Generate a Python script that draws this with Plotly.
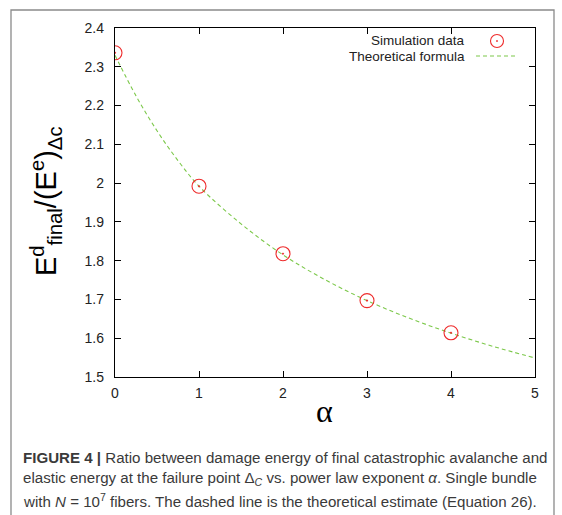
import plotly.graph_objects as go

# Simulation: damage-to-elastic energy ratio vs. power-law exponent alpha
alpha_sim = [0, 1, 2, 3, 4]
ratio_sim = [2.336, 1.992, 1.818, 1.697, 1.614]

# Theoretical estimate (Equation 26), sampled along alpha
alpha_theory = [0, 0.25, 0.5, 0.75, 1, 1.5, 2, 2.5, 3, 3.5, 4, 4.5, 5]
ratio_theory = [2.330, 2.225, 2.135, 2.058, 1.992, 1.895, 1.815, 1.751, 1.697,
                1.652, 1.613, 1.579, 1.549]

# Axis ticks
x_ticks = [0, 1, 2, 3, 4, 5]
x_tick_labels = ["0", "1", "2", "3", "4", "5"]
y_ticks = [1.5, 1.6, 1.7, 1.8, 1.9, 2.0, 2.1, 2.2, 2.3, 2.4]
y_tick_labels = ["1.5", "1.6", "1.7", "1.8", "1.9", "2", "2.1", "2.2", "2.3", "2.4"]

W, H = 562, 515
L, R, T, B = 115, 27, 28, 138
PW, PH = W - L - R, H - T - B

RED = "#ee2b2b"
GREEN = "#7cc84a"
INK = "#222222"


def px(x):
    """pixel column -> paper x"""
    return (x - L) / PW


def py(y):
    """pixel row -> paper y"""
    return (H - B - y) / PH


fig = go.Figure()

fig.add_trace(go.Scatter(
    x=alpha_theory, y=ratio_theory, mode="lines",
    line=dict(color=GREEN, width=1.1, dash="4px,3px", shape="spline", smoothing=1.0),
    name="Theoretical formula", showlegend=False,
))
fig.add_trace(go.Scatter(
    x=alpha_sim, y=ratio_sim, mode="markers",
    marker=dict(symbol="circle-open-dot", size=14, color=RED, line=dict(color=RED, width=1.1)),
    name="Simulation data", showlegend=False,
))

axis_common = dict(
    showline=True, linecolor="black", linewidth=1.3, mirror="ticks",
    ticks="inside", ticklen=6, tickwidth=1, tickcolor="black",
    showgrid=False, zeroline=False,
    tickfont=dict(family="Liberation Sans, Arial, sans-serif", size=14, color=INK),
)

fig.update_xaxes(range=[0, 5], tickvals=x_ticks, ticktext=x_tick_labels,
                 ticklabelstandoff=3, **axis_common)
fig.update_yaxes(range=[1.5, 2.4], tickvals=y_ticks, ticktext=y_tick_labels,
                 ticklabelstandoff=7, **axis_common)

annotations = []
# axis titles
annotations.append(dict(
    x=px(324), y=py(411), xref="paper", yref="paper", showarrow=False,
    text="α", font=dict(family="Liberation Serif, Times New Roman, serif", size=32, color="black"),
    xanchor="center", yanchor="middle",
))
annotations.append(dict(
    x=px(46), y=py(201), xref="paper", yref="paper", showarrow=False, textangle=-90,
    text="E<sup>d</sup><sub>final</sub>/(E<sup>e</sup>)<sub>Δc</sub>",
    font=dict(family="Liberation Sans, Arial, sans-serif", size=29, color="black"),
    xanchor="center", yanchor="middle",
))
# legend text (right-aligned, keys drawn to the right)
legend_font = dict(family="Liberation Sans, Arial, sans-serif", size=13.5, color=INK)
annotations.append(dict(x=px(466), y=py(40), xref="paper", yref="paper", showarrow=False,
                        text="Simulation data", font=legend_font, xanchor="right", yanchor="middle",
                        borderpad=0))
annotations.append(dict(x=px(466), y=py(56.5), xref="paper", yref="paper", showarrow=False,
                        text="Theoretical formula", font=legend_font, xanchor="right", yanchor="middle",
                        borderpad=0))

# caption
cap_font = dict(family="Liberation Sans, Arial, sans-serif", size=15.1, color="#3a3a3a")
caption_lines = [
    "<b>FIGURE 4 |</b> Ratio between damage energy of final catastrophic avalanche and",
    "elastic energy at the failure point Δ<sub><i>C</i></sub> vs. power law exponent <i>α</i>. Single bundle",
    "with <i>N</i> = 10<sup>7</sup> fibers. The dashed line is the theoretical estimate (Equation 26).",
]
for i, line in enumerate(caption_lines):
    annotations.append(dict(x=px(21), y=py(457 + 21.5 * i), xref="paper", yref="paper",
                            showarrow=False, text=line, font=cap_font,
                            xanchor="left", yanchor="middle", align="left"))

shapes = [
    # outer figure frame
    dict(type="rect", xref="paper", yref="paper", x0=px(11), x1=px(554), y0=py(560), y1=py(10),
         line=dict(color="#8a8a8a", width=1.3), layer="below"),
    # legend key: circle with centre dot
    dict(type="circle", xref="paper", yref="paper", x0=px(490.5), x1=px(503.5), y0=py(47.5), y1=py(34.5),
         line=dict(color=RED, width=1.1)),
    dict(type="circle", xref="paper", yref="paper", x0=px(496.4), x1=px(497.6), y0=py(41.6), y1=py(40.4),
         line=dict(color=RED, width=0.8), fillcolor=RED),
    # legend key: dashed line
    dict(type="line", xref="paper", yref="paper", x0=px(476), x1=px(517), y0=py(56), y1=py(56),
         line=dict(color=GREEN, width=1.1, dash="4px,3px")),
]

fig.update_layout(
    width=W, height=H,
    margin=dict(l=L, r=R, t=T, b=B),
    paper_bgcolor="white", plot_bgcolor="white",
    annotations=annotations, shapes=shapes,
    showlegend=False,
)

fig.write_html("out.html")
